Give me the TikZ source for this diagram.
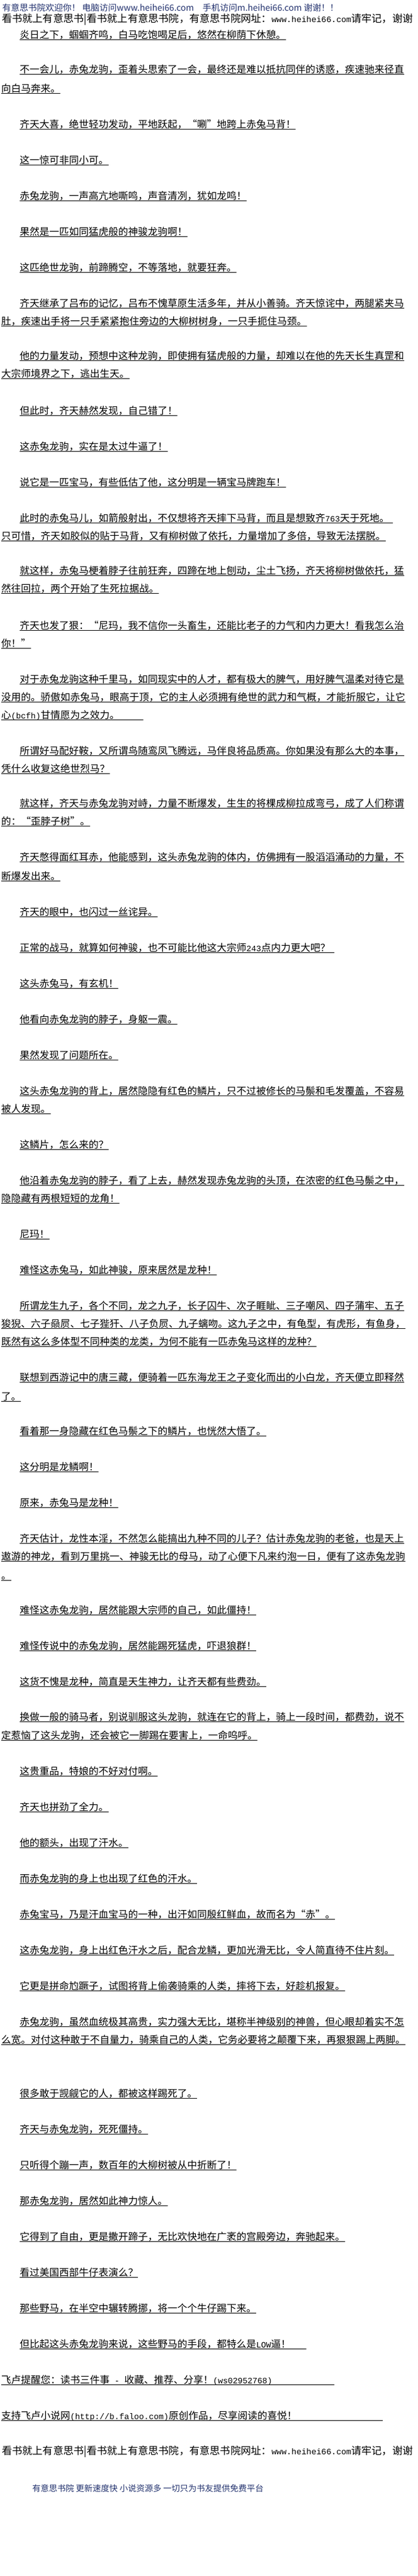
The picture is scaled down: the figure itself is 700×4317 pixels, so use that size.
\documentclass[tikz,border=0pt]{standalone}
\usepackage{fontspec}
\setmainfont{Noto Sans CJK SC}
\newfontfamily\latmono{Liberation Mono}
\definecolor{hdblue}{RGB}{35,50,110}
\newcommand\lts[2]{{\latmono\fontsize{#1}{#1}\selectfont #2}}
\newcommand\lt[1]{\lts{13.75}{#1}}
\newcommand\bodyline[4]{\node[body] (#1) at (#2,#3+4.5) {#4};\draw[ul] ([yshift=-2pt]#1.base west) -- ([yshift=-2pt]#1.base east);}
\newcommand\bodylineU[5]{\node[body] (#1) at (#2,#3+4.5) {#4};\coordinate (#1e) at (#5,#3+6.5);\draw[ul] ([yshift=-2pt]#1.base west) -- (#1e);}
\begin{document}
\begin{tikzpicture}[x=1pt,y=-1pt,
  body/.style={anchor=base west,inner sep=0pt,outer sep=0pt,text=black,font=\fontsize{16.5}{18}\selectfont},
  ul/.style={line width=0.8pt,black},
  hd/.style={anchor=base west,inner sep=0pt,outer sep=0pt,text=hdblue,font=\fontsize{14.5}{16}\selectfont},
  banner/.style={anchor=base west,inner sep=0pt,outer sep=0pt,text=black,font=\fontsize{17.2}{19}\selectfont}]
\fill[white] (0,0) rectangle (700,4317);
\useasboundingbox (0,0) rectangle (700,4317);
\clip (0,0) rectangle (700,4317);
% header
\node[hd] (h1) at (4,18.5) {有意思书院欢迎你！ 电脑访问www.heihei66.com\quad 手机访问m.heihei66.com 谢谢！！};
\node[banner] (h2) at (3,37.5) {看书就上有意思书|看书就上有意思书院，有意思书院网址：\lts{13.9}{www.heihei66.com}请牢记，谢谢};
% body
\bodyline{p1}{33}{60}{炎日之下，蝈蝈齐鸣，白马吃饱喝足后，悠然在柳荫下休憩。}
\bodyline{p2a}{33}{118}{不一会儿，赤兔龙驹，歪着头思索了一会，最终还是难以抵抗同伴的诱惑，疾速驰来径直}
\bodyline{p2b}{2}{150}{向白马奔来。}
\bodyline{p3}{33}{210}{齐天大喜，绝世轻功发动，平地跃起，“唰”地跨上赤兔马背！}
\bodyline{p4}{33}{270}{这一惊可非同小可。}
\bodyline{p5}{33}{330}{赤兔龙驹，一声高亢地嘶鸣，声音清冽，犹如龙鸣！}
\bodyline{p6}{33}{390}{果然是一匹如同猛虎般的神骏龙驹啊！}
\bodyline{p7}{33}{450}{这匹绝世龙驹，前蹄腾空，不等落地，就要狂奔。}
\bodyline{p8a}{33}{510}{齐天继承了吕布的记忆，吕布不愧草原生活多年，并从小善骑。齐天惊诧中，两腿紧夹马}
\bodyline{p8b}{2}{540}{肚，疾速出手将一只手紧紧抱住旁边的大柳树树身，一只手扼住马颈。}
\bodyline{p9a}{33}{598}{他的力量发动，预想中这种龙驹，即使拥有猛虎般的力量，却难以在他的先天长生真罡和}
\bodyline{p9b}{2}{628}{大宗师境界之下，逃出生天。}
\bodyline{p10}{33}{690}{但此时，齐天赫然发现，自己错了！}
\bodyline{p11}{33}{750}{这赤兔龙驹，实在是太过牛逼了！}
\bodyline{p12}{33}{810}{说它是一匹宝马，有些低估了他，这分明是一辆宝马牌跑车！}
\bodylineU{p13a}{33}{870}{此时的赤兔马儿，如箭般射出，不仅想将齐天摔下马背，而且是想致齐\lt{763}天于死地。}{658}
\bodyline{p13b}{2}{900}{只可惜，齐天如胶似的贴于马背，又有柳树做了依托，力量增加了多倍，导致无法摆脱。}
\bodyline{p14a}{33}{958}{就这样，赤兔马梗着脖子往前狂奔，四蹄在地上刨动，尘土飞扬，齐天将柳树做依托，猛}
\bodyline{p14b}{2}{988}{然往回拉，两个开始了生死拉据战。}
\bodyline{p15a}{33}{1050}{齐天也发了狠：“尼玛，我不信你一头畜生，还能比老子的力气和内力更大！看我怎么治}
\bodyline{p15b}{2}{1080}{你！”}
\bodyline{p16a}{33}{1140}{对于赤兔龙驹这种千里马，如同现实中的人才，都有极大的脾气，用好脾气温柔对待它是}
\bodyline{p16b}{2}{1170}{没用的。骄傲如赤兔马，眼高于顶，它的主人必须拥有绝世的武力和气概，才能折服它，让它}
\bodylineU{p16c}{2}{1200}{心\lt{(bcfh)}甘情愿为之效力。}{240}
\bodyline{p17a}{33}{1260}{所谓好马配好鞍，又所谓鸟随鸾凤飞腾远，马伴良将品质高。你如果没有那么大的本事，}
\bodyline{p17b}{2}{1290}{凭什么收复这绝世烈马？}
\bodyline{p18a}{33}{1348}{就这样，齐天与赤兔龙驹对峙，力量不断爆发，生生的将棵成柳拉成弯弓，成了人们称谓}
\bodyline{p18b}{2}{1378}{的：“歪脖子树”。}
\bodyline{p19a}{33}{1438}{齐天憋得面红耳赤，他能感到，这头赤兔龙驹的体内，仿佛拥有一股滔滔涌动的力量，不}
\bodyline{p19b}{2}{1470}{断爆发出来。}
\bodyline{p20}{33}{1530}{齐天的眼中，也闪过一丝诧异。}
\bodylineU{p21}{33}{1590}{正常的战马，就算如何神骏，也不可能比他这大宗师\lt{243}点内力更大吧？}{560}
\bodyline{p22}{33}{1650}{这头赤兔马，有玄机！}
\bodyline{p23}{33}{1710}{他看向赤兔龙驹的脖子，身躯一震。}
\bodyline{p24}{33}{1770}{果然发现了问题所在。}
\bodyline{p25a}{33}{1830}{这头赤兔龙驹的背上，居然隐隐有红色的鳞片，只不过被修长的马鬃和毛发覆盖，不容易}
\bodyline{p25b}{2}{1860}{被人发现。}
\bodyline{p26}{33}{1920}{这鳞片，怎么来的？}
\bodyline{p27a}{33}{1980}{他沿着赤兔龙驹的脖子，看了上去，赫然发现赤兔龙驹的头顶，在浓密的红色马鬃之中，}
\bodyline{p27b}{2}{2010}{隐隐藏有两根短短的龙角！}
\bodyline{p28}{33}{2070}{尼玛！}
\bodyline{p29}{33}{2130}{难怪这赤兔马，如此神骏，原来居然是龙种！}
\bodyline{p30a}{33}{2190}{所谓龙生九子，各个不同，龙之九子，长子囚牛、次子睚眦、三子嘲风、四子蒲牢、五子}
\bodyline{p30b}{2}{2220}{狻猊、六子赑屃、七子狴犴、八子负屃、九子螭吻。这九子之中，有龟型，有虎形，有鱼身，}
\bodyline{p30c}{2}{2250}{既然有这么多体型不同种类的龙类，为何不能有一匹赤兔马这样的龙种？}
\bodyline{p31a}{33}{2310}{联想到西游记中的唐三藏，便骑着一匹东海龙王之子变化而出的小白龙，齐天便立即释然}
\bodyline{p31b}{2}{2342}{了。}
\bodyline{p32}{33}{2400}{看着那一身隐藏在红色马鬃之下的鳞片，也恍然大悟了。}
\bodyline{p33}{33}{2460}{这分明是龙鳞啊！}
\bodyline{p34}{33}{2520}{原来，赤兔马是龙种！}
\bodyline{p35a}{33}{2580}{齐天估计，龙性本淫，不然怎么能搞出九种不同的儿子？估计赤兔龙驹的老爸，也是天上}
\bodyline{p35b}{2}{2610}{遨游的神龙，看到万里挑一、神骏无比的母马，动了心便下凡来约泡一日，便有了这赤兔龙驹}
\bodyline{p35c}{2}{2642}{。}
\bodyline{p36}{33}{2700}{难怪这赤兔龙驹，居然能跟大宗师的自己，如此僵持！}
\bodyline{p37}{33}{2760}{难怪传说中的赤兔龙驹，居然能踢死猛虎，吓退狼群！}
\bodyline{p38}{33}{2820}{这货不愧是龙种，简直是天生神力，让齐天都有些费劲。}
\bodyline{p39a}{33}{2879}{换做一般的骑马者，别说驯服这头龙驹，就连在它的背上，骑上一段时间，都费劲，说不}
\bodyline{p39b}{2}{2910}{定惹恼了这头龙驹，还会被它一脚踢在要害上，一命呜呼。}
\bodyline{p40}{33}{2970}{这贵重品，特娘的不好对付啊。}
\bodyline{p41}{33}{3030}{齐天也拼劲了全力。}
\bodyline{p42}{33}{3090}{他的额头，出现了汗水。}
\bodyline{p43}{33}{3150}{而赤兔龙驹的身上也出现了红色的汗水。}
\bodyline{p44}{33}{3210}{赤兔宝马，乃是汗血宝马的一种，出汗如同殷红鲜血，故而名为“赤”。}
\bodyline{p45}{33}{3270}{这赤兔龙驹，身上出红色汗水之后，配合龙鳞，更加光滑无比，令人简直待不住片刻。}
\bodyline{p46}{33}{3330}{它更是拼命尥蹶子，试图将背上偷袭骑乘的人类，摔将下去，好趁机报复。}
\bodyline{p47a}{33}{3390}{赤兔龙驹，虽然血统极其高贵，实力强大无比，堪称半神级别的神兽，但心眼却着实不怎}
\bodyline{p47b}{2}{3420}{么宽。对付这种敢于不自量力，骑乘自己的人类，它务必要将之颠覆下来，再狠狠踢上两脚。}
\bodyline{p48}{33}{3510}{很多敢于觊觎它的人，都被这样踢死了。}
\bodyline{p49}{33}{3570}{齐天与赤兔龙驹，死死僵持。}
\bodyline{p50}{33}{3630}{只听得个蹦一声，数百年的大柳树被从中折断了！}
\bodyline{p51}{33}{3690}{那赤兔龙驹，居然如此神力惊人。}
\bodyline{p52}{33}{3750}{它得到了自由，更是撒开蹄子，无比欢快地在广袤的宫殿旁边，奔驰起来。}
\bodyline{p53}{33}{3810}{看过美国西部牛仔表演么？}
\bodyline{p54}{33}{3870}{那些野马，在半空中辗转腾挪，将一个个牛仔踢下来。}
\bodylineU{p55}{33}{3930}{但比起这头赤兔龙驹来说，这些野马的手段，都特么是\lt{LOW}逼！}{513}
\bodylineU{f1}{2}{3990}{飞卢提醒您：读书三件事\lt{ - }收藏、推荐、分享！\lt{(ws02952768)}}{560}
\bodylineU{f2}{2}{4050}{支持飞卢小说网\lt{(http://b.faloo.com)}原创作品，尽享阅读的喜悦！}{641}
% footer
\node[banner] (h3) at (3,4113.5) {看书就上有意思书|看书就上有意思书院，有意思书院网址：\lts{13.9}{www.heihei66.com}请牢记，谢谢};
\node[hd,font=\fontsize{14}{16}\selectfont] (tag) at (54,4175) {有意思书院 更新速度快 小说资源多 一切只为书友提供免费平台};
\end{tikzpicture}
\end{document}
